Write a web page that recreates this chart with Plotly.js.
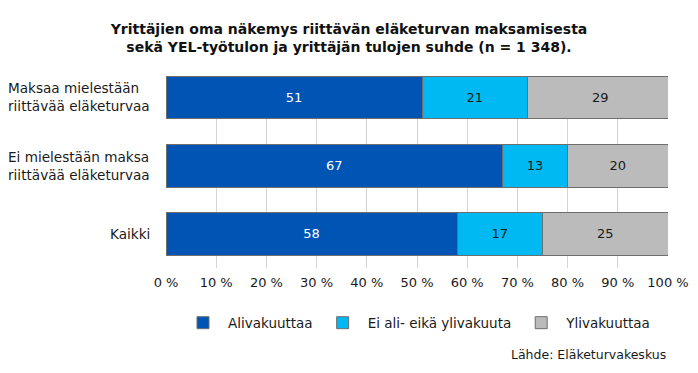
<!DOCTYPE html>
<html>
<head>
<meta charset="utf-8">
<script src="https://cdn.plot.ly/plotly-3.0.1.min.js"></script>
<style>html,body{margin:0;padding:0;background:#fff;}#chart{width:698px;height:373px;}</style>
</head>
<body>
<div id="chart"></div>
<script>
const categories = ["Maksaa mielestään<br>riittävää eläketurvaa", "Ei mielestään maksa<br>riittävää eläketurvaa", "Kaikki"];
const seriesNames = ["Alivakuuttaa", "Ei ali- eikä ylivakuuta", "Ylivakuuttaa"];
const aliValues = [51, 67, 58];
const eiValues = [21, 13, 17];
const yliValues = [29, 20, 25];
const xTickVals = [0, 10, 20, 30, 40, 50, 60, 70, 80, 90, 100];
const xTickText = ["0 %", "10 %", "20 %", "30 %", "40 %", "50 %", "60 %", "70 %", "80 %", "90 %", "100 %"];
const titleText = "Yrittäjien oma näkemys riittävän eläketurvan maksamisesta<br>sekä YEL-työtulon ja yrittäjän tulojen suhde (n = 1 348).";
const sourceText = "Lähde: Eläketurvakeskus";

const colors = ["#0055B4", "#00B9F2", "#BBBBBB"];
const textColors = ["#FFFFFF", "#1a1a1a", "#1a1a1a"];
const FONT = "DejaVu Sans, Verdana, sans-serif";

const allValues = [aliValues, eiValues, yliValues];
const traces = allValues.map((vals, i) => ({
  type: "bar",
  orientation: "h",
  name: seriesNames[i],
  x: vals,
  y: categories,
  width: 0.63,
  marker: {color: colors[i], line: {color: "#6e6e6e", width: 1}},
  text: vals.map(String),
  textposition: "inside",
  insidetextanchor: "middle",
  textfont: {family: FONT, size: 13, color: textColors[i]},
  hoverinfo: "none"
}));

const annotations = categories.map(c => ({
  xref: "paper", yref: "y", x: -0.027, y: c,
  xanchor: "right", yanchor: "middle", align: "left",
  text: c, showarrow: false,
  font: {family: FONT, size: 13.6, color: "#1a1a1a"}
}));
annotations.push({
  xref: "paper", yref: "paper", x: 1, y: -0.453,
  xanchor: "right", yanchor: "middle",
  text: sourceText, showarrow: false,
  font: {family: FONT, size: 12.5, color: "#1a1a1a"}
});

const layout = {
  width: 698, height: 373,
  margin: {l: 166, r: 30, t: 76, b: 105},
  paper_bgcolor: "#fff", plot_bgcolor: "#fff",
  barmode: "stack",
  showlegend: true,
  title: {
    text: titleText,
    font: {family: FONT, size: 14, color: "#111", weight: "bold"},
    x: 0.5, xref: "container", xanchor: "center",
    y: 0.91, yref: "container", yanchor: "middle"
  },
  xaxis: {
    range: [0, 100],
    tickvals: xTickVals, ticktext: xTickText,
    showgrid: true, gridcolor: "#D4D4D4", gridwidth: 1,
    zeroline: false, showline: false,
    ticks: "", ticklen: 0,
    ticklabelstandoff: 5,
    tickfont: {family: FONT, size: 13, color: "#1a1a1a"},
    fixedrange: true
  },
  yaxis: {
    type: "category",
    categoryorder: "array", categoryarray: categories,
    range: [2.5, -0.315],
    showticklabels: false, showgrid: false, zeroline: false, showline: false,
    fixedrange: true
  },
  legend: {
    orientation: "h",
    x: 0.5, xanchor: "center", xref: "paper",
    y: -0.286, yanchor: "middle",
    font: {family: FONT, size: 13.5, color: "#1a1a1a"},
    traceorder: "normal",
    itemwidth: 40
  },
  annotations: annotations
};

Plotly.newPlot("chart", traces, layout, {staticPlot: true, displayModeBar: false});
</script>
</body>
</html>
